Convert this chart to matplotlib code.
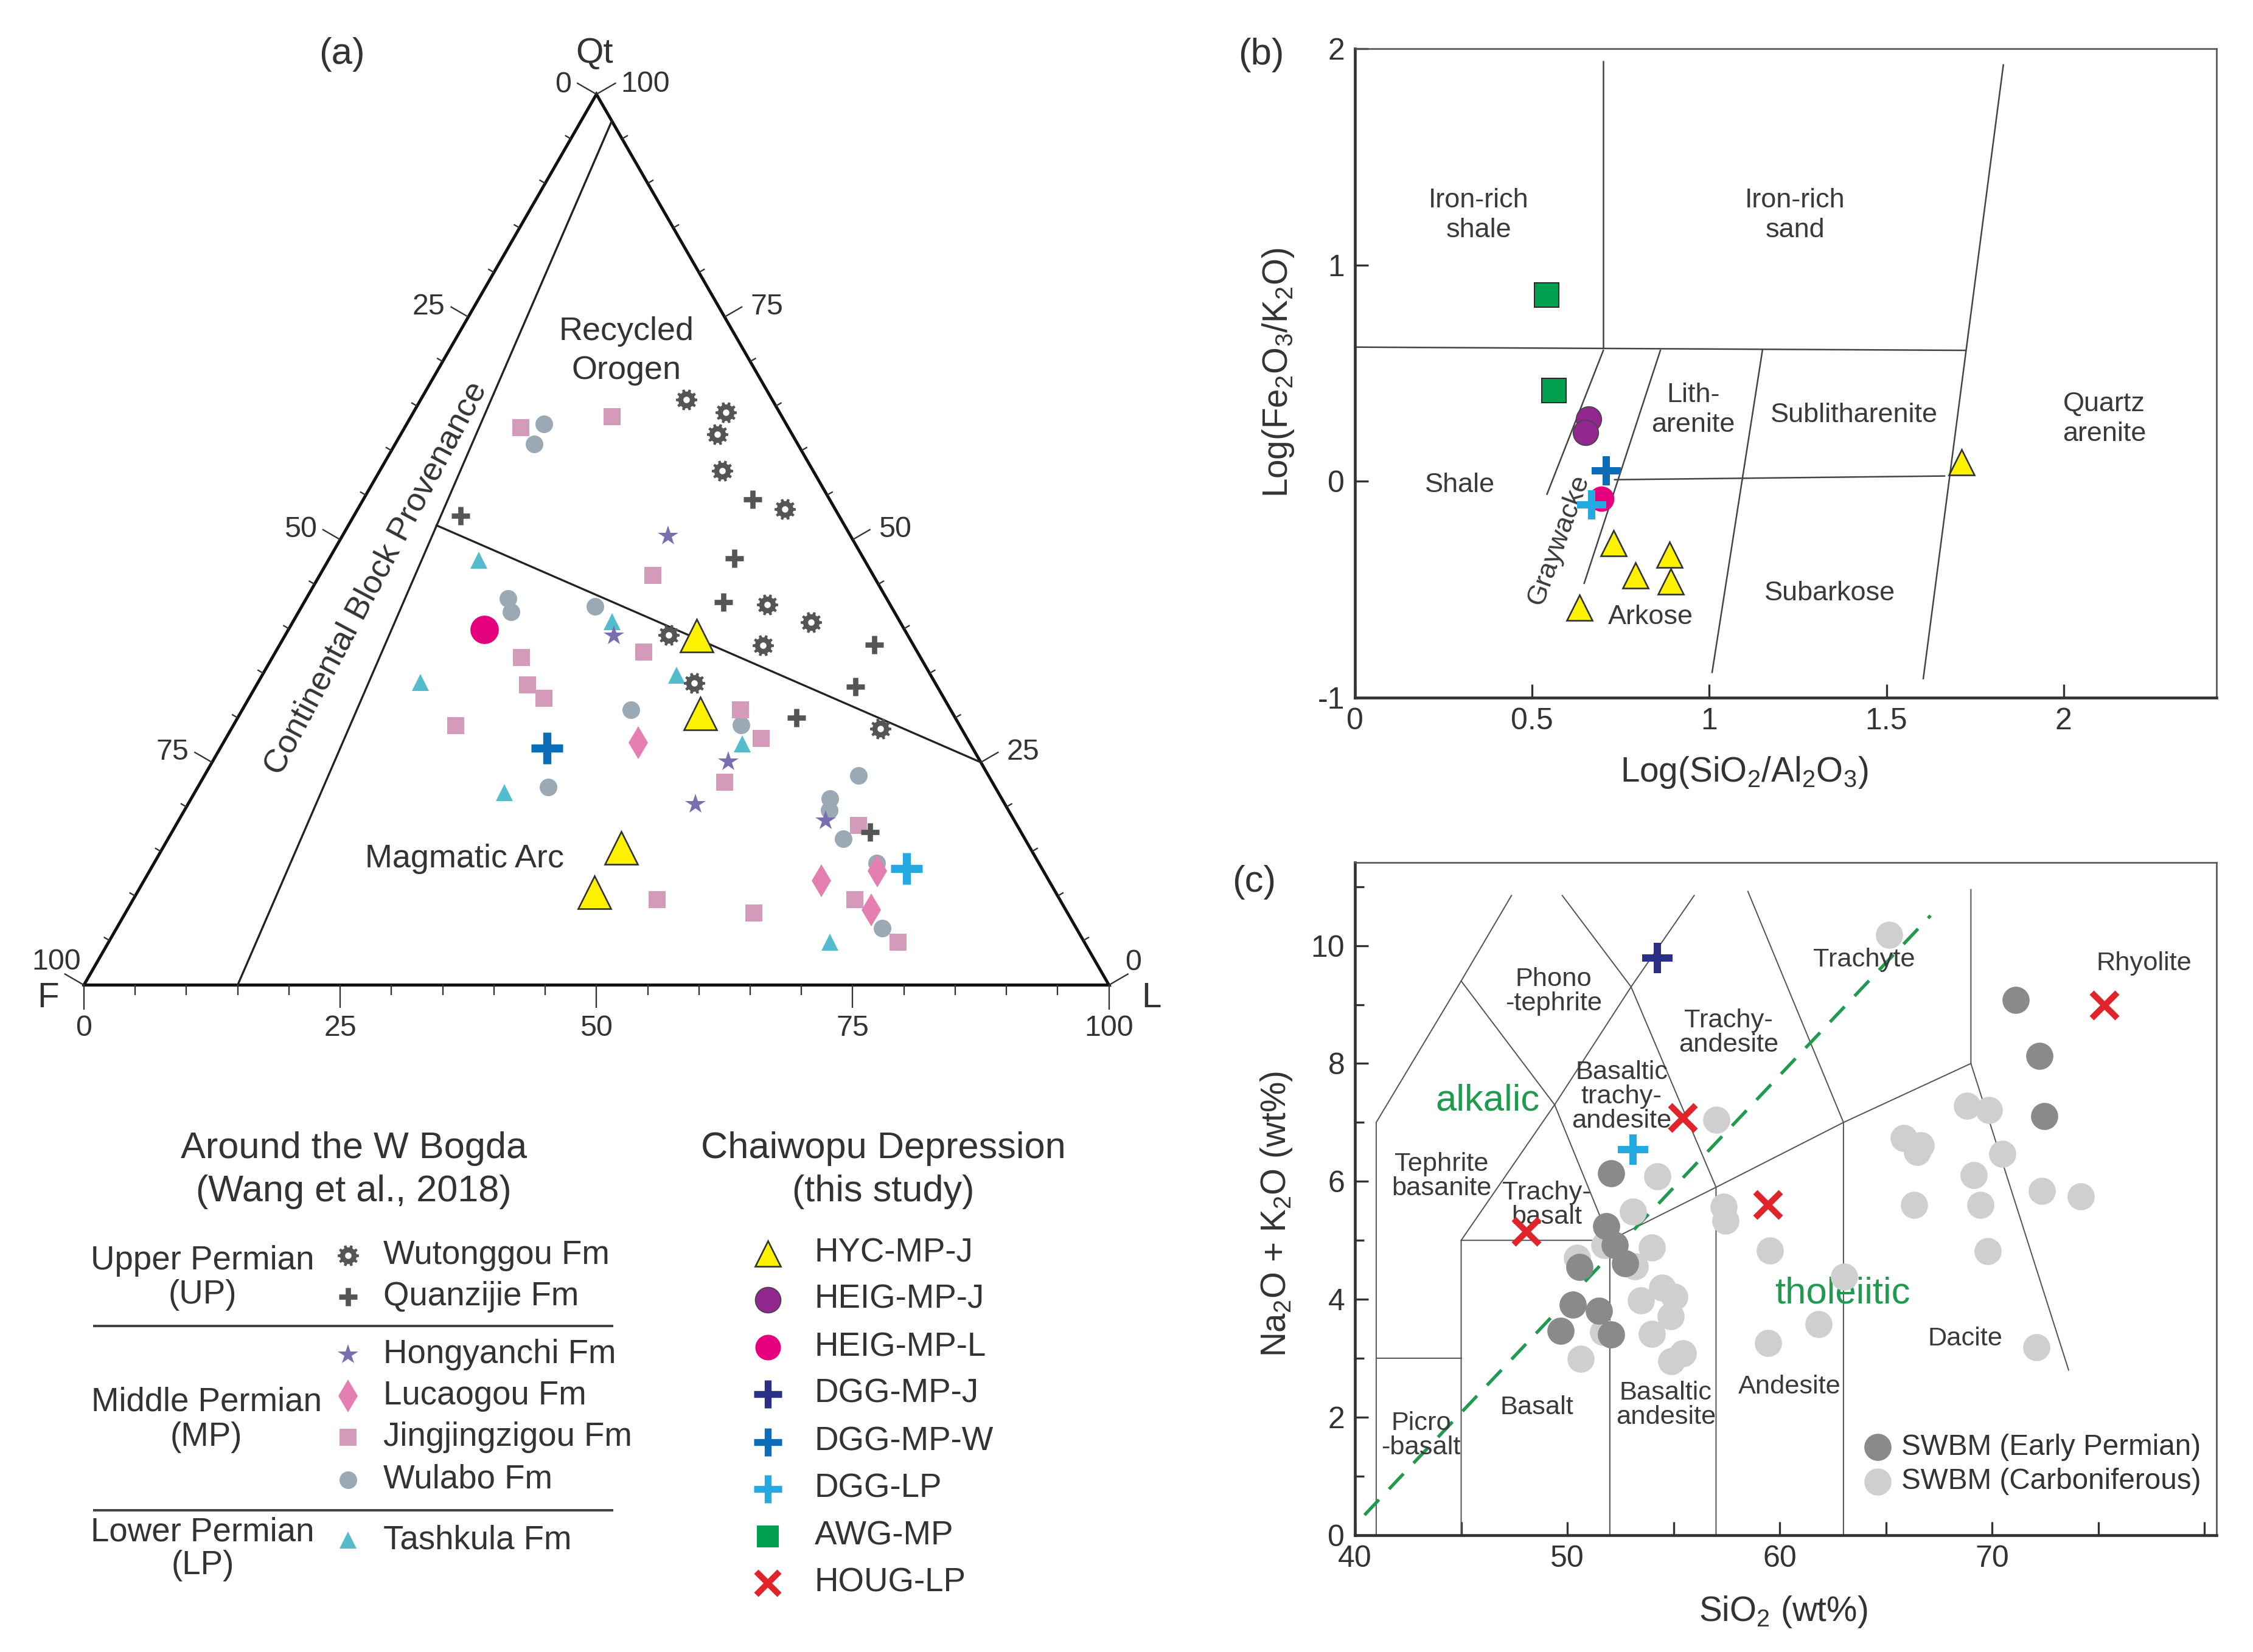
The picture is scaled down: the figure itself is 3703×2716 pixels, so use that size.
import numpy as np
import matplotlib
matplotlib.use('Agg')
import matplotlib.pyplot as plt
from matplotlib.path import Path

plt.rcParams['font.family'] = ['Liberation Sans', 'DejaVu Sans']
plt.rcParams['mathtext.fontset'] = 'custom'
plt.rcParams['mathtext.rm'] = 'Liberation Sans'
plt.rcParams['mathtext.it'] = 'Liberation Sans:italic'
plt.rcParams['text.color'] = '#333333'

# ---------------------------------------------------------------- data (a) QFL ternary (Qt, F, L in %)
WUT_QT = [65.7, 64.3, 61.8, 57.7, 53.4, 42.7, 40.7, 38.1, 39.3, 33.9, 28.8]
WUT_F = [8.4, 5.2, 7.3, 8.9, 4.9, 12.0, 8.7, 14.7, 23.3, 23.5, 7.9]
WUT_L = [25.9, 30.5, 30.9, 33.4, 41.7, 45.3, 50.6, 47.2, 37.4, 42.6, 63.3]

QUA_QT = [52.7, 54.5, 47.9, 43.0, 38.2, 33.5, 30.0, 17.2]
QUA_F = [36.9, 7.5, 12.6, 16.1, 3.8, 8.0, 15.5, 14.7]
QUA_L = [10.4, 38.0, 39.5, 40.9, 58.0, 58.5, 54.5, 68.1]

HON_QT = [50.4, 39.2, 25.1, 20.3, 18.5]
HON_F = [17.8, 28.7, 24.6, 30.2, 18.4]
HON_L = [31.8, 32.1, 50.3, 49.5, 63.1]

LUC_QT = [27.2, 12.8, 11.7, 8.4]
LUC_F = [32.3, 16.2, 22.2, 19.0]
LUC_L = [40.5, 71.0, 66.1, 72.6]

JIN_QT = [62.6, 63.8, 46.0, 36.8, 37.4, 33.7, 32.2, 29.1, 30.9, 27.7, 22.8, 17.9, 9.6, 8.1, 9.6, 4.8]
JIN_F = [26.1, 16.6, 21.5, 38.9, 26.7, 39.9, 39.0, 49.2, 20.5, 20.1, 26.1, 15.5, 20.0, 30.6, 39.3, 18.2]
JIN_L = [11.3, 19.6, 32.5, 24.3, 35.9, 26.4, 28.8, 21.7, 48.6, 52.2, 51.1, 66.6, 70.4, 61.3, 51.1, 77.0]

WUL_QT = [63.0, 60.7, 43.4, 41.9, 42.5, 30.9, 29.2, 22.2, 23.5, 20.9, 19.6, 16.4, 13.7, 6.4]
WUL_F = [23.6, 25.7, 36.9, 37.4, 28.9, 31.2, 21.3, 43.6, 12.7, 16.8, 17.5, 17.7, 15.8, 18.9]
WUL_L = [13.4, 13.6, 19.7, 20.7, 28.6, 37.9, 49.5, 34.2, 63.8, 62.3, 62.9, 65.9, 70.5, 74.7]

TSK_QT = [47.7, 40.8, 34.8, 34.0, 27.1, 21.6, 4.8]
TSK_F = [37.6, 28.1, 24.8, 50.2, 22.2, 48.2, 24.8]
TSK_L = [14.7, 31.1, 40.4, 15.8, 50.7, 30.2, 70.4]

HYC_QT = [39.2, 30.5, 15.4, 10.4]
HYC_F = [20.6, 24.6, 39.9, 45.0]
HYC_L = [40.2, 44.9, 44.7, 44.6]

HEIGL_QT, HEIGL_F, HEIGL_L = [39.9], [41.0], [19.1]
DGGW_QT, DGGW_F, DGGW_L = [26.6], [41.5], [31.9]
DGGLP_QT, DGGLP_F, DGGLP_L = [13.1], [13.2], [73.7]

# field boundaries (Dickinson)
CBP_QT, CBP_F, CBP_L = [0, 97], [85, 0], [15, 3]
ROMA_QT, ROMA_F, ROMA_L = [51.6, 25], [39.8, 0], [8.6, 75]
TERN_TICKS = list(range(0, 101, 5))
TERN_LABELS = [0, 25, 50, 75, 100]

# ---------------------------------------------------------------- data (b) Herron diagram
B_AWG_X = [0.541, 0.562]
B_AWG_Y = [0.86, 0.419]
B_HEIGJ_X = [0.660, 0.651]
B_HEIGJ_Y = [0.286, 0.225]
B_HEIGL_X, B_HEIGL_Y = [0.695], [-0.082]
B_DGGW_X, B_DGGW_Y = [0.710], [0.048]
B_DGGLP_X, B_DGGLP_Y = [0.668], [-0.109]
B_HYC_X = [0.729, 0.887, 0.791, 0.891, 0.633, 1.712]
B_HYC_Y = [-0.288, -0.339, -0.436, -0.465, -0.586, 0.087]

HERRON_LINES = [
    [(0.701, 1.94), (0.701, 0.617)],
    [(0.0, 0.62), (1.722, 0.605)],
    [(1.83, 1.925), (1.604, -0.913)],
    [(0.701, 0.605), (0.542, -0.06)],
    [(0.862, 0.605), (0.647, -0.472)],
    [(1.150, 0.605), (1.008, -0.884)],
    [(0.733, 0.007), (1.664, 0.024)],
]
HERRON_LABELS = [
    ('Iron-rich\nshale', 0.349, 1.23, 0),
    ('Iron-rich\nsand', 1.242, 1.23, 0),
    ('Shale', 0.296, -0.017, 0),
    ('Lith-\narenite', 0.954, 0.33, 0),
    ('Sublitharenite', 1.409, 0.305, 0),
    ('Quartz\narenite', 2.115, 0.286, 0),
    ('Graywacke', 0.576, -0.271, 70),
    ('Arkose', 0.835, -0.627, 0),
    ('Subarkose', 1.34, -0.518, 0),
]

# ---------------------------------------------------------------- data (c) TAS diagram
EP_SIO2 = [71.12, 72.24, 72.47, 52.07, 51.82, 52.23, 52.71, 50.57, 50.25, 51.5, 49.67, 52.07]
EP_ALK = [9.08, 8.13, 7.11, 6.14, 5.24, 4.92, 4.61, 4.55, 3.91, 3.80, 3.46, 3.40]
CB_SIO2 = [65.14, 57.03, 54.25, 53.10, 57.35, 57.45, 59.53, 53.99, 53.19, 51.75, 50.47, 54.47,
           55.05, 53.45, 54.86, 53.99, 51.69, 50.63, 54.89, 55.43, 59.44, 61.84, 63.02, 65.84,
           66.64, 66.48, 68.82, 69.84, 70.48, 69.14, 66.32, 69.46, 72.34, 74.17, 69.78, 72.08]
CB_ALK = [10.18, 7.04, 6.09, 5.49, 5.57, 5.33, 4.83, 4.88, 4.56, 4.92, 4.70, 4.20,
          4.04, 3.98, 3.71, 3.41, 3.44, 2.99, 2.95, 3.08, 3.26, 3.58, 4.38, 6.74,
          6.61, 6.50, 7.28, 7.21, 6.47, 6.11, 5.60, 5.60, 5.84, 5.75, 4.82, 3.19]
HOUG_SIO2 = [55.43, 48.07, 59.44, 75.29]
HOUG_ALK = [7.08, 5.15, 5.60, 8.98]
C_DGGJ_X, C_DGGJ_Y = [54.25], [9.79]
C_DGGLP_X, C_DGGLP_Y = [53.10], [6.54]

TAS_LINES = [
    [(41, 0), (41, 7), (45, 9.4), (47.37, 10.85)],
    [(41, 3), (45, 3)],
    [(45, 0), (45, 5), (49.4, 7.3), (52, 5), (52, 0)],
    [(45, 5), (52, 5), (57, 5.9), (63, 7), (69, 8)],
    [(45, 9.4), (49.4, 7.3)],
    [(49.76, 10.85), (53, 9.3), (57, 5.9), (57, 0)],
    [(49.4, 7.3), (53, 9.3), (55.97, 10.85)],
    [(58.5, 10.92), (63, 7), (63, 0)],
    [(69, 10.95), (69, 8), (73.6, 2.8)],
]
ALK_THOL_X = [40.45, 67.1]
ALK_THOL_Y = [0.34, 10.51]
TAS_LABELS = [
    ('Phono\n-tephrite', 49.35, 9.22),
    ('Tephrite\nbasanite', 44.07, 6.09),
    ('Trachy-\nbasalt', 49.03, 5.60),
    ('Basaltic\ntrachy-\nandesite', 52.55, 7.44),
    ('Trachy-\nandesite', 57.58, 8.52),
    ('Trachyte', 63.98, 9.76),
    ('Rhyolite', 77.14, 9.70),
    ('Dacite', 68.72, 3.33),
    ('Andesite', 60.46, 2.52),
    ('Basaltic\nandesite', 54.63, 2.21),
    ('Basalt', 48.55, 2.16),
    ('Picro\n-basalt', 43.11, 1.69),
]

# ---------------------------------------------------------------- styles
C_TXT = '#333333'
C_GEAR = '#555555'
C_STAR = '#7a6db0'
C_DIAM = '#e67fb1'
C_SQR = '#d39bb9'
C_CIRC = '#9aa9b3'
C_TRI = '#55bccd'
C_YEL = '#fff200'
C_PUR = '#92278f'
C_MAG = '#e5007d'
C_NAVY = '#2b2f86'
C_BLUE = '#0b6db7'
C_LBLUE = '#24a9e1'
C_GRN = '#00a04f'
C_RED = '#e0242b'
C_DKG = '#8a8a8a'
C_LTG = '#cfcfcf'


def gear_marker(n=10, r_out=1.0, r_in=0.78, r_hole=0.30):
    da = 2 * np.pi / n
    outer = []
    for i in range(n):
        c = i * da
        for off, r in ((-0.30, r_in), (-0.18, r_out), (0.18, r_out), (0.30, r_in)):
            a = c + off * da
            outer.append((r * np.cos(a), r * np.sin(a)))
    outer = np.array(outer)
    t = np.linspace(0, 2 * np.pi, 25)[::-1]
    hole = np.column_stack([r_hole * np.cos(t), r_hole * np.sin(t)])
    verts = np.vstack([outer, outer[:1], hole, hole[:1]])
    codes = ([Path.MOVETO] + [Path.LINETO] * (len(outer) - 1) + [Path.CLOSEPOLY] +
             [Path.MOVETO] + [Path.LINETO] * (len(hole) - 1) + [Path.CLOSEPOLY])
    return Path(verts, codes)


GEAR = gear_marker()

STY = {
    'WUT': dict(marker=GEAR, ms=10.5, color=C_GEAR, mew=0, ls='none'),
    'QUA': dict(marker='+', ms=9, color=C_GEAR, mew=2.6, ls='none'),
    'HON': dict(marker='*', ms=10.5, color=C_STAR, mew=0, ls='none'),
    'LUC': dict(marker='d', ms=11.5, color=C_DIAM, mew=0, ls='none'),
    'JIN': dict(marker='s', ms=8.2, color=C_SQR, mew=0, ls='none'),
    'WUL': dict(marker='o', ms=8.7, color=C_CIRC, mew=0, ls='none'),
    'TSK': dict(marker='^', ms=8.5, color=C_TRI, mew=0, ls='none'),
}

W, H = 1568.0, 1150.0  # layout grid of the reference (px)


def fx(x):
    return x / W


def fy(y):
    return 1 - y / H


fig = plt.figure(figsize=(3703 / 240, 2716 / 240), dpi=240)

# ================================================================ (a) ternary
SQ = np.sqrt(3) / 2
axa = fig.add_axes([fx(58.4), fy(685.7), (771.8 - 58.4) / W, (685.7 - 65.6) / H])
axa.set_xlim(0, 100)
axa.set_ylim(0, 100 * SQ)
axa.axis('off')


def txy(qt, f, l):
    qt = np.asarray(qt, float)
    f = np.asarray(f, float)
    l = np.asarray(l, float)
    s = qt + f + l
    return 100 * (l + qt / 2) / s, 100 * qt / s * SQ


Fp = np.array([0.0, 0.0])
Lp = np.array([100.0, 0.0])
Qp = np.array([50.0, 100 * SQ])
axa.plot([Fp[0], Lp[0], Qp[0], Fp[0]], [Fp[1], Lp[1], Qp[1], Fp[1]], color='#111111',
         lw=1.5, solid_joinstyle='miter', clip_on=False, zorder=2)
x, y = txy(CBP_QT, CBP_F, CBP_L)
axa.plot(x, y, color='#222222', lw=1.0, clip_on=False, zorder=2)
x, y = txy(ROMA_QT, ROMA_F, ROMA_L)
axa.plot(x, y, color='#222222', lw=1.0, clip_on=False, zorder=2)

n_left = np.array([-SQ, 0.5])
n_right = np.array([SQ, 0.5])
n_bot = np.array([0.0, -1.0])
tk = dict(color='#333333', lw=0.7, solid_capstyle='butt', clip_on=False, zorder=2)


def tick(p, n, length):
    axa.plot([p[0], p[0] + n[0] * length], [p[1], p[1] + n[1] * length], **tk)


for v in TERN_TICKS:
    pb = Fp + v / 100 * (Lp - Fp)
    pl = Qp + v / 100 * (Fp - Qp)
    pr = Lp + v / 100 * (Qp - Lp)
    if v in (0, 100):
        lb, ls_ = 2.4, 2.2
    elif v % 25 == 0:
        lb, ls_ = 2.2, 2.0
    else:
        lb, ls_ = 1.0, 0.65
    tick(pb, n_bot, lb)
    tick(pl, n_left, ls_)
    tick(pr, n_right, ls_)

tfs = 14.5
for v in TERN_LABELS:
    pb = Fp + v / 100 * (Lp - Fp)
    axa.annotate(str(v), xy=pb, xytext=(0, -21.3), textcoords='offset points',
                 ha='center', va='center', fontsize=tfs, color=C_TXT)
    pl = Qp + v / 100 * (Fp - Qp)
    off = {0: (-16.3, 4.7), 100: (-13.5, 11.3)}.get(v, (-19.5, 5.0))
    axa.annotate(str(v), xy=pl, xytext=off, textcoords='offset points',
                 ha='center', va='center', fontsize=tfs, color=C_TXT)
    pr = Lp + v / 100 * (Qp - Lp)
    off = {100: (24.1, 5.0), 0: (12.0, 11.0)}.get(v, (20.9, 5.0))
    axa.annotate(str(v), xy=pr, xytext=off, textcoords='offset points',
                 ha='center', va='center', fontsize=tfs, color=C_TXT)

for key, (qt, f, l) in [('WUL', (WUL_QT, WUL_F, WUL_L)), ('JIN', (JIN_QT, JIN_F, JIN_L)),
                        ('TSK', (TSK_QT, TSK_F, TSK_L)), ('LUC', (LUC_QT, LUC_F, LUC_L)),
                        ('HON', (HON_QT, HON_F, HON_L)), ('QUA', (QUA_QT, QUA_F, QUA_L)),
                        ('WUT', (WUT_QT, WUT_F, WUT_L))]:
    x, y = txy(qt, f, l)
    axa.plot(x, y, zorder=3, clip_on=False, **STY[key])

x, y = txy(HYC_QT, HYC_F, HYC_L)
axa.plot(x, y, ls='none', marker='^', ms=16, mfc=C_YEL, mec='#333333', mew=0.8, zorder=4)
x, y = txy(HEIGL_QT, HEIGL_F, HEIGL_L)
axa.plot(x, y, ls='none', marker='o', ms=14, mfc=C_MAG, mec=C_MAG, mew=0, zorder=4)
x, y = txy(DGGW_QT, DGGW_F, DGGW_L)
axa.plot(x, y, ls='none', marker='+', ms=15.5, color=C_BLUE, mew=4, zorder=4)
x, y = txy(DGGLP_QT, DGGLP_F, DGGLP_L)
axa.plot(x, y, ls='none', marker='+', ms=15.5, color=C_LBLUE, mew=4, zorder=4)

# ================================================================ (b) Herron
def style_box(ax):
    for s in ('left', 'bottom'):
        ax.spines[s].set_linewidth(1.4)
        ax.spines[s].set_color('#333333')
    for s in ('top', 'right'):
        ax.spines[s].set_linewidth(0.8)
        ax.spines[s].set_color('#555555')
    ax.tick_params(which='both', direction='in', color='#333333', width=1.0,
                   labelsize=15, labelcolor=C_TXT, pad=5)
    ax.tick_params(which='major', length=6.5)
    ax.tick_params(which='minor', length=4.5)


axb = fig.add_axes([fx(943), fy(485.5), (1542.7 - 943) / W, (485.5 - 33.9) / H])
axb.set_xlim(0, 2.432)
axb.set_ylim(-1, 2)
style_box(axb)
axb.set_xticks([0, 0.5, 1, 1.5, 2])
axb.set_xticklabels(['0', '0.5', '1', '1.5', '2'])
axb.set_yticks([-1, 0, 1, 2])
axb.set_yticklabels(['-1', '0', '1', '2'])
for seg in HERRON_LINES:
    xs, ys = zip(*seg)
    axb.plot(xs, ys, color='#444444', lw=0.75, zorder=2)
for txt, xx, yy, rot in HERRON_LABELS:
    axb.text(xx, yy, txt, ha='center', va='center', fontsize=13.5, color='#3a3a3a',
             rotation=rot, linespacing=1.25, zorder=2)
axb.plot(B_AWG_X, B_AWG_Y, ls='none', marker='s', ms=12, mfc=C_GRN, mec='#2a2a2a', mew=0.6, zorder=4)
axb.plot(B_HEIGJ_X, B_HEIGJ_Y, ls='none', marker='o', ms=12.5, mfc=C_PUR, mec='#444444', mew=0.5, zorder=4)
axb.plot(B_HEIGL_X, B_HEIGL_Y, ls='none', marker='o', ms=12.5, mfc=C_MAG, mec=C_MAG, mew=0, zorder=4)
axb.plot(B_DGGW_X, B_DGGW_Y, ls='none', marker='+', ms=14.5, color=C_BLUE, mew=3.6, zorder=5)
axb.plot(B_DGGLP_X, B_DGGLP_Y, ls='none', marker='+', ms=14.5, color=C_LBLUE, mew=3.6, zorder=5)
axb.plot(B_HYC_X, B_HYC_Y, ls='none', marker='^', ms=12.6, mfc=C_YEL, mec='#333333', mew=0.8, zorder=4)

# ================================================================ (c) TAS
axc = fig.add_axes([fx(943), fy(1068.6), (1542.7 - 943) / W, (1068.6 - 600.4) / H])
axc.set_xlim(40, 80.57)
axc.set_ylim(0, 11.41)
style_box(axc)
axc.set_xticks([40, 50, 60, 70])
axc.set_xticklabels(['40', '50', '60', '70'])
axc.set_xticks([45, 55, 65, 75, 80], minor=True)
axc.tick_params(axis='x', which='minor', length=6.5)
axc.set_yticks([0, 2, 4, 6, 8, 10])
axc.set_yticklabels(['0', '2', '4', '6', '8', '10'])
axc.set_yticks([1, 3, 5, 7, 9, 11], minor=True)
for seg in TAS_LINES:
    xs, ys = zip(*seg)
    axc.plot(xs, ys, color='#555555', lw=0.6, zorder=2)
axc.plot(ALK_THOL_X, ALK_THOL_Y, color='#1f9a4e', lw=1.6, dashes=(6.5, 4.5), zorder=2)
for txt, xx, yy in TAS_LABELS:
    axc.text(xx, yy, txt, ha='center', va='center', fontsize=13, color='#3a3a3a',
             linespacing=1.0, zorder=2)
axc.text(46.24, 7.37, 'alkalic', ha='center', va='center', fontsize=18.5, color='#1f9a4e', zorder=2)
axc.text(62.96, 4.09, 'tholeiitic', ha='center', va='center', fontsize=18.5, color='#1f9a4e', zorder=2)
axc.plot(CB_SIO2, CB_ALK, ls='none', marker='o', ms=13.4, mfc=C_LTG, mec=C_LTG, mew=0, zorder=3)
axc.plot(EP_SIO2, EP_ALK, ls='none', marker='o', ms=13.4, mfc=C_DKG, mec=C_DKG, mew=0, zorder=3)
axc.plot(HOUG_SIO2, HOUG_ALK, ls='none', marker='x', ms=12.5, color=C_RED, mew=3.0, zorder=5)
axc.plot(C_DGGJ_X, C_DGGJ_Y, ls='none', marker='+', ms=15, color=C_NAVY, mew=3.6, zorder=5)
axc.plot(C_DGGLP_X, C_DGGLP_Y, ls='none', marker='+', ms=15, color=C_LBLUE, mew=3.6, zorder=5)

# ================================================================ overlay: titles, labels, legends
ov = fig.add_axes([0, 0, 1, 1])
ov.set_xlim(0, W)
ov.set_ylim(H, 0)
ov.axis('off')


def T(x, y, s, fs, **kw):
    kw.setdefault('ha', 'center')
    kw.setdefault('va', 'center')
    ov.text(x, y, s, fontsize=fs, color=C_TXT, **kw)


# panel labels
T(238, 38, '(a)', 18.5)
T(877.6, 38.3, '(b)', 18.5)
T(872.9, 614, '(c)', 18.5)
# ternary vertices & fields
T(413.6, 37.3, 'Qt', 17.5)
T(33.5, 695, 'F', 17.5)
T(801.5, 695, 'L', 17.5)
T(436, 230.7, 'Recycled', 16.2)
T(436, 257.8, 'Orogen', 16.2)
T(323.2, 597.7, 'Magmatic Arc', 16.2)
T(261.6, 402.7, 'Continental Block Provenance', 16.2, rotation=62, rotation_mode='anchor')
# axis labels
T(889.6, 259.6, r'Log(Fe$\mathregular{_2}$O$\mathregular{_3}$/K$\mathregular{_2}$O)', 17, rotation=90)
T(1213.7, 537.7, r'Log(SiO$\mathregular{_2}$/Al$\mathregular{_2}$O$\mathregular{_3}$)', 17)
T(888.5, 845, r'Na$\mathregular{_2}$O + K$\mathregular{_2}$O (wt%)', 17, rotation=90)
T(1241, 1122, r'SiO$\mathregular{_2}$ (wt%)', 17)

# legend: Wang et al.
T(246.2, 799.6, 'Around the W Bogda', 18.4)
T(246.2, 829.6, '(Wang et al., 2018)', 18.4)
T(614.6, 799.6, 'Chaiwopu Depression', 18.4)
T(614.6, 829.6, '(this study)', 18.4)

lfs = 16.4
T(141, 877.8, 'Upper Permian', lfs)
T(141, 901.4, '(UP)', lfs)
T(143.6, 976.3, 'Middle Permian', lfs)
T(143.6, 1000.5, '(MP)', lfs)
T(141, 1067, 'Lower Permian', lfs)
T(141, 1089.8, '(LP)', lfs)
ov.plot([65.7, 425.8], [923, 923], color='#444444', lw=1.2)
ov.plot([65.7, 425.8], [1051.3, 1051.3], color='#444444', lw=1.2)

left_items = [('WUT', 'Wutonggou Fm', 873.8), ('QUA', 'Quanzijie Fm', 902.6),
              ('HON', 'Hongyanchi Fm', 943.1), ('LUC', 'Lucaogou Fm', 971.7),
              ('JIN', 'Jingjingzigou Fm', 1000.5), ('WUL', 'Wulabo Fm', 1030),
              ('TSK', 'Tashkula Fm', 1072.2)]
for key, lab, yy in left_items:
    ov.plot([242], [yy], **STY[key])
    T(266.8, yy, lab, lfs, ha='left')

right_items = [
    (dict(marker='^', ms=12.6, mfc=C_YEL, mec='#333333', mew=0.8), 'HYC-MP-J', 872.6),
    (dict(marker='o', ms=12.6, mfc=C_PUR, mec='#444444', mew=0.5), 'HEIG-MP-J', 904.8),
    (dict(marker='o', ms=12.6, mfc=C_MAG, mec=C_MAG, mew=0), 'HEIG-MP-L', 937.9),
    (dict(marker='+', ms=14, color=C_NAVY, mew=3.4), 'DGG-MP-J', 970.4),
    (dict(marker='+', ms=14, color=C_BLUE, mew=3.4), 'DGG-MP-W', 1003.8),
    (dict(marker='+', ms=14, color=C_LBLUE, mew=3.4), 'DGG-LP', 1036.5),
    (dict(marker='s', ms=11, mfc=C_GRN, mec=C_GRN, mew=0), 'AWG-MP', 1069.5),
    (dict(marker='x', ms=11.5, color=C_RED, mew=3.0), 'HOUG-LP', 1102.1),
]
for sty, lab, yy in right_items:
    ov.plot([534.5], [yy], ls='none', **sty)
    T(566.9, yy, lab, lfs, ha='left')

# legend in (c)
ov.plot([1306.7], [1007.5], ls='none', marker='o', ms=13.4, mfc=C_DKG, mec=C_DKG, mew=0)
ov.plot([1306.7], [1031.3], ls='none', marker='o', ms=13.4, mfc=C_LTG, mec=C_LTG, mew=0)
T(1323.2, 1007.5, 'SWBM (Early Permian)', 14.3, ha='left')
T(1323.2, 1031.3, 'SWBM (Carboniferous)', 14.3, ha='left')

fig.savefig('out.png', dpi=240, facecolor='white')
